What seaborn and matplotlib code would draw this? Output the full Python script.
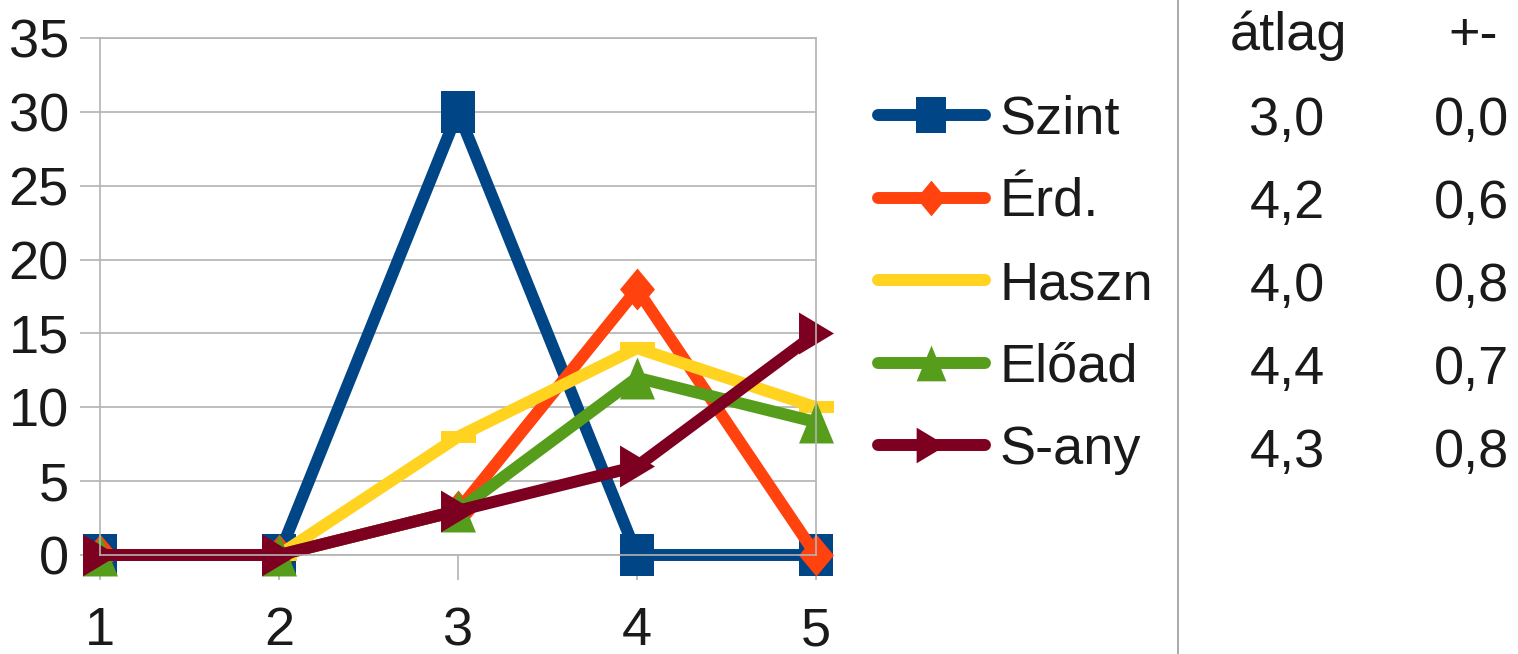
import pandas as pd
import matplotlib
matplotlib.use("Agg")
import matplotlib.pyplot as plt
from matplotlib.lines import Line2D
import seaborn as sns

# values
scores = [1, 2, 3, 4, 5]
szint = [0, 0, 30, 0, 0]
erd = [0, 0, 3, 18, 0]
haszn = [0, 0, 8, 14, 10]
eload = [0, 0, 3, 12, 9]
sany = [0, 0, 3, 6, 15]
names = ['Szint', 'Érd.', 'Haszn', 'Előad', 'S-any']
atlag = ['3,0', '4,2', '4,0', '4,4', '4,3']
pm = ['0,0', '0,6', '0,8', '0,7', '0,8']

colors = ['#004586', '#ff420e', '#ffd320', '#579d1c', '#7e0021']

df = pd.concat([pd.DataFrame({'x': scores, 'y': v, 'serie': n})
                for n, v in zip(names, [szint, erd, haszn, eload, sany])])

sns.set_style("white")
plt.rcParams['font.family'] = ['Liberation Sans Narrow', 'Liberation Sans', 'DejaVu Sans']
txt = '#1a1a1a'
grid = '#b3b3b3'
fs = 39

# marker shapes, 35 x 42 px like the original
mk = {
    'Szint': [(-1, -1.2), (1, -1.2), (1, 1.2), (-1, 1.2)],
    'Érd.': [(0, 1.2), (1, 0), (0, -1.2), (-1, 0)],
    'Haszn': [(-1, -0.33), (1, -0.33), (1, 0.33), (-1, 0.33)],
    'Előad': [(0, 1.2), (1, -1.2), (-1, -1.2)],
    'S-any': [(-1, 1.2), (1, 0), (-1, -1.2)],
}

fig = plt.figure(figsize=(15.18, 6.54), dpi=100)
ax = fig.add_axes([100/1518, (654-555)/654, 716/1518, 517/654])

sns.lineplot(data=df, x='x', y='y', hue='serie', style='serie', hue_order=names,
             style_order=names, palette=colors, markers=mk, dashes=False,
             lw=8.6, markersize=30.2, markeredgewidth=0, clip_on=False,
             ax=ax, legend=True)

for line in ax.lines:
    if line.get_label() == 'Haszn' or list(line.get_ydata()) == haszn:
        line.set_markersize(25.2)

ax.set_xlim(1, 5)
ax.set_ylim(0, 35)
ax.set_xticks(scores)
ax.set_yticks(range(0, 36, 5))
ax.set_xlabel('')
ax.set_ylabel('')
ax.yaxis.grid(True, color=grid, lw=1.2)
ax.xaxis.grid(False)
for s in ax.spines.values():
    s.set_color(grid)
    s.set_linewidth(1.2)
ax.tick_params(axis='y', length=14.4, width=1.2, color=grid, pad=8, labelsize=fs, labelcolor=txt, left=True)
ax.tick_params(axis='x', length=18, width=1.2, color=grid, pad=19, labelsize=fs, labelcolor=txt, bottom=True)

handles, labels = ax.get_legend_handles_labels()
ax.legend_.remove()
fig.legend(handles, labels, loc='upper left', bbox_to_anchor=(878/1518, 1 - 95/654),
           frameon=False, fontsize=fs, handlelength=1.97, handletextpad=0.28,
           labelspacing=0.6, borderpad=0, borderaxespad=0, markerscale=0.85,
           labelcolor=txt)

# small table on the right
fig.add_artist(Line2D([1178/1518, 1178/1518], [0, 1], color='#999999', lw=1.2))
fig.text(1288/1518, 1 - 50/654, 'átlag', ha='center', va='baseline', fontsize=fs, color=txt)
fig.text(1473/1518, 1 - 50/654, '+-', ha='center', va='baseline', fontsize=fs, color=txt)
for i, (a, p) in enumerate(zip(atlag, pm)):
    yb = 1 - (135 + 83*i)/654
    fig.text(1287/1518, yb, a, ha='center', va='baseline', fontsize=fs, color=txt)
    fig.text(1472/1518, yb, p, ha='center', va='baseline', fontsize=fs, color=txt)

fig.savefig('out.png', dpi=100)
